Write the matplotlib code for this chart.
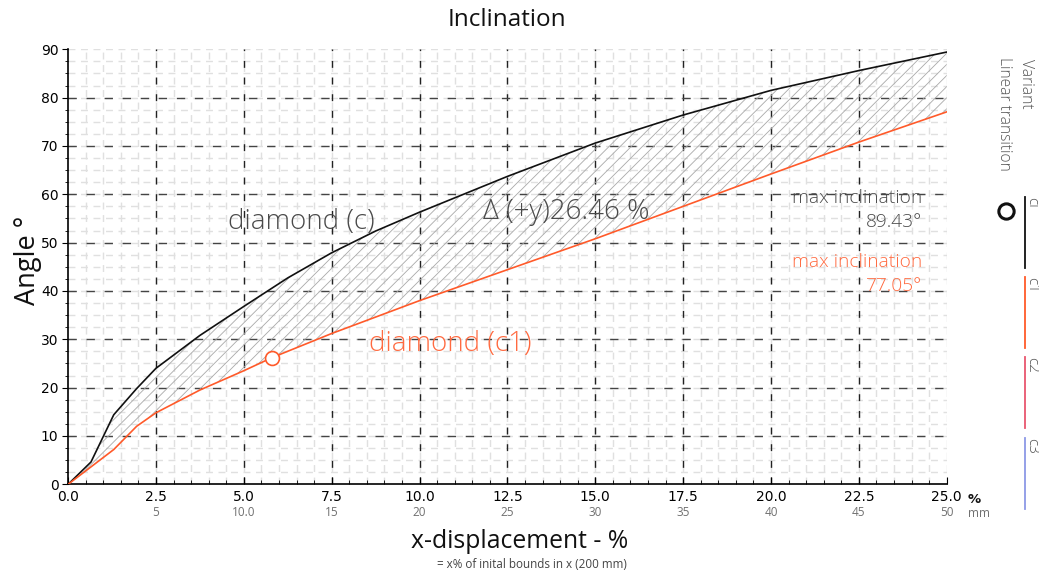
import numpy as np
import matplotlib
matplotlib.use("Agg")
import matplotlib.pyplot as plt
from matplotlib.lines import Line2D
from matplotlib.transforms import blended_transform_factory

# ---- data -------------------------------------------------------------
x_c = [0, 0.65, 1.3, 1.95, 2.5, 3.75, 5, 6.25, 7.5, 8.75, 10, 12.5, 15, 17.5, 20, 22.5, 25]
y_c = [0, 4.6, 14.4, 19.8, 24.0, 30.8, 36.8, 42.7, 47.9, 52.4, 56.3, 63.7, 70.6, 76.4, 81.5, 85.6, 89.43]

x_c1 = [0, 0.65, 1.3, 1.95, 2.5, 3.75, 5, 5.8, 7.5, 10, 12.5, 15, 17.5, 20, 22.5, 25]
y_c1 = [0, 3.6, 7.2, 12.0, 14.8, 19.5, 23.5, 26.2, 31.2, 38.0, 44.4, 50.8, 57.5, 64.2, 70.8, 77.05]

marker_x, marker_y = 5.8, 26.2
delta_pct = 26.46
max_c, max_c1 = 89.43, 77.05

x_ticks = [0, 2.5, 5, 7.5, 10, 12.5, 15, 17.5, 20, 22.5, 25]
x_tick_labels = ["0.0", "2.5", "5.0", "7.5", "10.0", "12.5", "15.0", "17.5", "20.0", "22.5", "25.0"]
mm_ticks = [2.5, 5, 7.5, 10, 12.5, 15, 17.5, 20, 22.5, 25]
mm_labels = ["5", "10.0", "15", "20", "25", "30", "35", "40", "45", "50"]
y_ticks = [0, 10, 20, 30, 40, 50, 60, 70, 80, 90]

legend_names = ["ci", "c1", "c2", "c3"]
legend_colors = ["#111111", "#ff5a2a", "#e8566e", "#8c98e6"]

RED = "#ff5a2a"
RED_TXT = "#ff6a40"
GRAY_TXT = "#4a4a4a"
SANS = ["Open Sans", "DejaVu Sans"]

plt.rcParams["hatch.linewidth"] = 0.6

W, H = 1039, 574
fig = plt.figure(figsize=(W / 100, H / 100), dpi=100)
ax = fig.add_axes([68.1 / W, (H - 484.3) / H, (946.7 - 68.1) / W, (484.3 - 49.3) / H])

ax.set_xlim(0, 25)
ax.set_ylim(0, 90)

# minor grid (light dashed lattice)
for xv in np.arange(0.5, 25.01, 0.5):
    ax.axvline(xv, color="#e0e0e0", lw=1.0, dashes=(5, 4), zorder=0)
for yv in np.arange(2.5, 90.01, 2.5):
    ax.axhline(yv, color="#e0e0e0", lw=1.0, dashes=(5, 4), zorder=0)
# major grid
for xv in x_ticks[1:-1]:
    ax.axvline(xv, color="#222222", lw=1.0, dashes=(5, 7), zorder=1)
for yv in y_ticks[1:-1]:
    ax.axhline(yv, color="#444444", lw=1.0, dashes=(6, 7), zorder=1)

# hatched band between the two curves
xf = np.linspace(0, 25, 400)
yc_i = np.interp(xf, x_c, y_c)
yc1_i = np.interp(xf, x_c1, y_c1)
ax.fill_between(xf, yc1_i, yc_i, facecolor="none", edgecolor="#a9a9a9",
                hatch="///", linewidth=0, zorder=2)

ax.plot(x_c, y_c, color="#111111", lw=1.2, zorder=4)
ax.plot(x_c1, y_c1, color=RED, lw=1.2, zorder=4)
ax.plot(marker_x, marker_y, "o", mfc="white", mec=RED, ms=10, mew=1.2, zorder=5)

# annotations
ax.text(4.56, 54.3, "diamond (c)", color=GRAY_TXT, fontsize=20, family=SANS,
        fontweight="light", va="center", ha="left", zorder=6)
ax.text(11.8, 56.3, f"Δ (+y){delta_pct:.2f} %", color=GRAY_TXT, fontsize=20, family=SANS,
        fontweight="light", va="center", ha="left", zorder=6)
ax.text(8.57, 29.0, "diamond (c1)", color=RED_TXT, fontsize=20, family=SANS,
        fontweight="light", va="center", ha="left", zorder=6)
ax.text(24.3, 59.3, "max inclination", color=GRAY_TXT, fontsize=13.8, family=SANS,
        fontweight="light", va="center", ha="right", zorder=6)
ax.text(24.3, 54.3, f"{max_c:.2f}°", color=GRAY_TXT, fontsize=13.8, family=SANS,
        fontweight="light", va="center", ha="right", zorder=6)
ax.text(24.3, 46.0, "max inclination", color=RED_TXT, fontsize=13.8, family=SANS,
        fontweight="light", va="center", ha="right", zorder=6)
ax.text(24.3, 41.0, f"{max_c1:.2f}°", color=RED_TXT, fontsize=13.8, family=SANS,
        fontweight="light", va="center", ha="right", zorder=6)

# spines and ticks
for s in ("top", "right"):
    ax.spines[s].set_visible(False)
ax.spines["left"].set_linewidth(1.2)
ax.spines["bottom"].set_linewidth(1.2)
ax.set_xticks(x_ticks)
ax.set_xticklabels(x_tick_labels)
ax.set_xticks(np.arange(0, 25.01, 0.5), minor=True)
ax.set_yticks(y_ticks)
ax.set_yticks(np.arange(0, 90.01, 2.5), minor=True)
ax.tick_params(axis="x", which="major", direction="in", length=5, labelsize=10, pad=4)
ax.tick_params(axis="x", which="minor", direction="in", length=3)
ax.tick_params(axis="y", which="major", direction="out", length=4, labelsize=10, pad=3)
ax.tick_params(axis="y", which="minor", direction="out", length=2.5)

# secondary mm scale under the % scale
tr = blended_transform_factory(ax.transData, ax.transAxes)
for xv, lab in zip(mm_ticks, mm_labels):
    ax.text(xv, -0.064, lab, transform=tr, ha="center", va="center",
            fontsize=8.5, color="#707070", family=SANS)
ax.text(25.6, -0.035, "%", transform=tr, ha="left", va="center",
        fontsize=9.5, fontweight="bold", color="#111111")
ax.text(25.6, -0.067, "mm", transform=tr, ha="left", va="center",
        fontsize=8.5, color="#707070", family=SANS)

# titles
fig.text(507 / W, 1 - 20 / H, "Inclination", ha="center", va="center",
         fontsize=17.5, family=SANS, color="#111111")
fig.text(28 / W, 1 - 260 / H, "Angle °", ha="center", va="center", rotation=90,
         fontsize=19.5, family=SANS, color="#111111")
fig.text(520 / W, 1 - 541 / H, "x-displacement - %", ha="center", va="center",
         fontsize=17.8, family=SANS, color="#111111")
fig.text(532 / W, 1 - 564 / H, "= x% of inital bounds in x (200 mm)", ha="center",
         va="center", fontsize=8.4, family=SANS, color="#444444")

# vertical legend on the right
fig.text(1026 / W, 1 - 59 / H, "Variant", ha="center", va="top", rotation=-90,
         fontsize=11.3, family=SANS, color="#555555", fontweight="light")
fig.text(1004 / W, 1 - 57 / H, "Linear transition", ha="center", va="top", rotation=-90,
         fontsize=11.2, family=SANS, color="#555555", fontweight="light")
fig.add_artist(Line2D([1006 / W], [1 - 211 / H], marker="o", ms=11, mfc="none",
                      mec="#111111", mew=2.2, transform=fig.transFigure))
tops = [197, 277, 357, 438]
for name, col, top in zip(legend_names, legend_colors, tops):
    fig.add_artist(Line2D([1025 / W, 1025 / W], [1 - top / H, 1 - (top + 71) / H],
                          color=col, lw=1.3, transform=fig.transFigure))
    fig.text(1031.5 / W, 1 - top / H, name, ha="center", va="top", rotation=-90,
             fontsize=11, family=SANS, color="#555555", fontweight="light")

fig.savefig("out.png", dpi=100)
